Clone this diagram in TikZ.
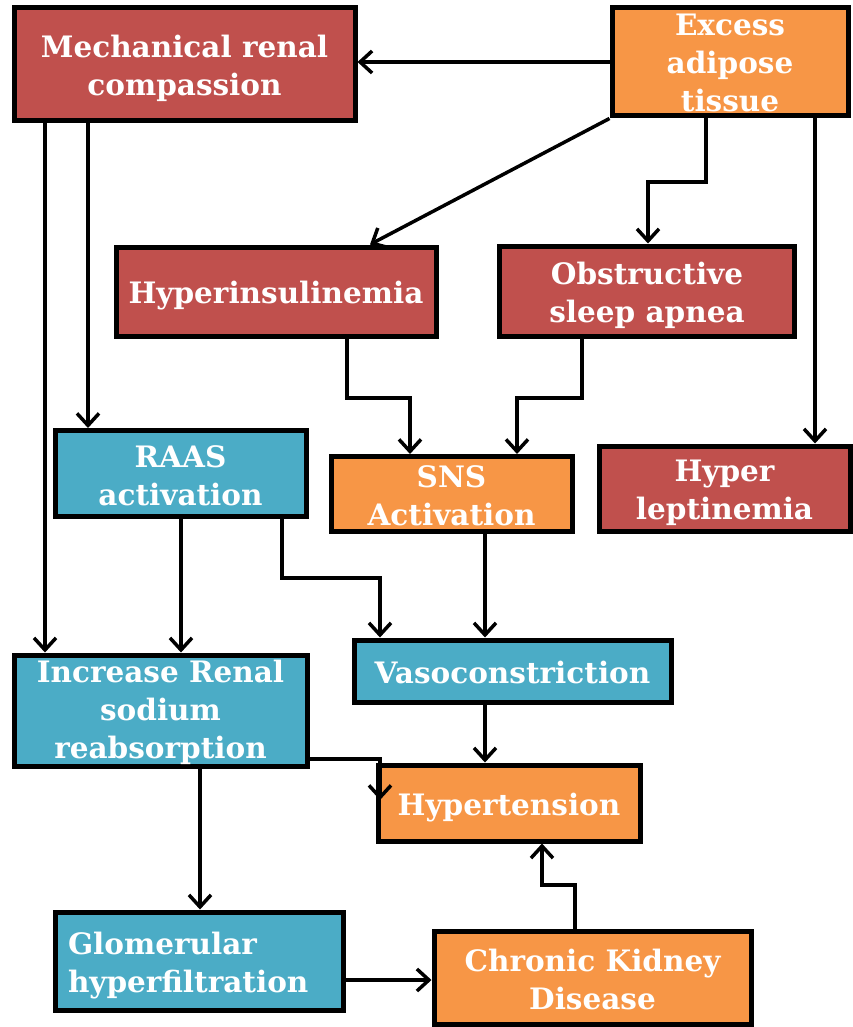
\documentclass[tikz,border=0pt]{standalone}
\usepackage{fontspec}
\setmainfont{DejaVu Serif}
\usetikzlibrary{arrows.meta}
\definecolor{boxred}{HTML}{C0504D}
\definecolor{boxorange}{HTML}{F79646}
\definecolor{boxblue}{HTML}{4BACC6}
% struts that fix the vertical extent of every label
\newcommand\boxtopstrut{\rule{0pt}{31pt}}
\newcommand\boxbotstrut{\rule[-6pt]{0pt}{6pt}}
% slimmer struts for the three-line labels
\newcommand\boxtopstrutsm{\rule{0pt}{27pt}}
\newcommand\boxbotstrutsm{\rule[-4pt]{0pt}{4pt}}
\tikzset{
  box/.style={draw=black, line width=5pt, fill=#1, text=white, align=center,
    inner sep=0pt, font=\fontsize{29.5}{38}\selectfont\bfseries},
  arr/.style={line width=3.5pt, -{Straight Barb[length=12pt,width=22pt,line width=3.5pt]}}
}
\begin{document}
\begin{tikzpicture}[x=1pt,y=-1pt]
\useasboundingbox (0,0) rectangle (852,1027);
\fill[white] (0,0) rectangle (852,1027);

% boxes
\node[box=boxred, minimum width=341pt, minimum height=113pt] (mech) at (184.5,64.5) {\boxtopstrut Mechanical renal\\compassion\boxbotstrut};
\node[box=boxorange, minimum width=236pt, minimum height=108pt] (fat) at (730,62) {\boxtopstrutsm Excess\\adipose\\tissue\boxbotstrutsm};
\node[box=boxred, minimum width=320pt, minimum height=89pt] (ins) at (276,291.5) {\boxtopstrut Hyperinsulinemia\boxbotstrut};
\node[box=boxred, minimum width=295pt, minimum height=90pt] (osa) at (647,291) {\boxtopstrut Obstructive\\sleep apnea\boxbotstrut};
\node[box=boxblue, minimum width=251pt, minimum height=86pt] (raas) at (180.5,473.5) {\boxtopstrut RAAS\\activation\boxbotstrut};
\node[box=boxorange, minimum width=241pt, minimum height=74pt] (sns) at (451.5,494) {\boxtopstrut SNS\\Activation\boxbotstrut};
\node[box=boxred, minimum width=251pt, minimum height=85pt] (lep) at (724.5,488.5) {\boxtopstrut Hyper\\leptinemia\boxbotstrut};
\node[box=boxblue, minimum width=293pt, minimum height=111pt] (inc) at (160.5,710.5) {\boxtopstrutsm Increase Renal\\sodium\\reabsorption\boxbotstrutsm};
\node[box=boxblue, minimum width=317pt, minimum height=62pt] (vaso) at (512.5,671) {\boxtopstrut Vasoconstriction\boxbotstrut};
\node[box=boxorange, minimum width=262pt, minimum height=76pt] (hyp) at (509,803) {\boxtopstrut Hypertension\boxbotstrut};
\node[box=boxblue, minimum width=288pt, minimum height=98pt, text width=262pt, align=left] (glom) at (199,961) {\boxtopstrut Glomerular\\hyperfiltration\boxbotstrut};
\node[box=boxorange, minimum width=317pt, minimum height=93pt] (ckd) at (592.5,977.5) {\boxtopstrut Chronic Kidney\\Disease\boxbotstrut};

\coordinate (hypside) at (380,800);

% connectors
\draw[arr] (fat.west) -- (mech.east |- fat.west);
\draw[arr] (fat.south west) -- (ins.north -| 370,0);
\draw[arr] (706,0 |- fat.south) -- (706,182) -| (osa.north -| 648,0);
\draw[arr] (815,0 |- fat.south) -- (815,0 |- lep.north);
\draw[arr] (45,0 |- mech.south) -- (45,0 |- inc.north);
\draw[arr] (88,0 |- mech.south) -- (88,0 |- raas.north);
\draw[arr] (347,0 |- ins.south) -- (347,398) -| (sns.north -| 410,0);
\draw[arr] (582,0 |- osa.south) -- (582,398) -| (sns.north -| 517,0);
\draw[arr] (181,0 |- raas.south) -- (181,0 |- inc.north);
\draw[arr] (282,0 |- raas.south) -- (282,578) -| (vaso.north -| 380,0);
\draw[arr] (485,0 |- sns.south) -- (485,0 |- vaso.north);
\draw[arr] (485,0 |- vaso.south) -- (485,0 |- hyp.north);
\draw[arr] (inc.east |- 0,759) -| (hypside);
\draw[arr] (200,0 |- inc.south) -- (200,0 |- glom.north);
\draw[arr] (glom.east |- 0,980) -- (ckd.west |- 0,980);
\draw[arr] (575,0 |- ckd.north) -- (575,885) -| (hyp.south -| 542,0);
\end{tikzpicture}
\end{document}
